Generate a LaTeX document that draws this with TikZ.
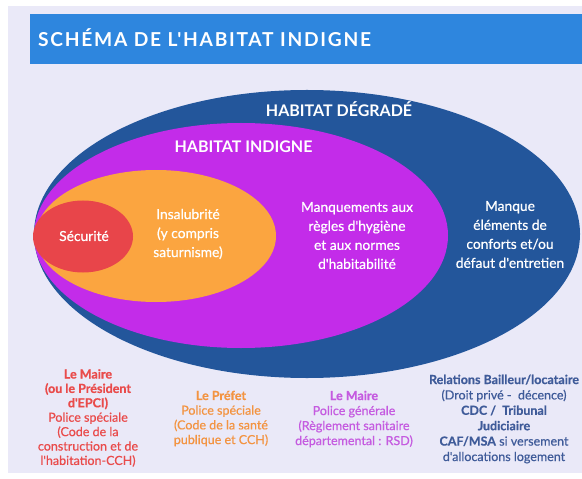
\documentclass[tikz,border=0pt]{standalone}
\usepackage{fontspec}
\setmainfont{Lato}
\newfontfamily\ttlfont[LetterSpace=9]{Lato}
\newfontfamily\medfont[FakeBold=0.6]{Lato}
\usetikzlibrary{shapes.geometric,positioning}
\definecolor{bgc}{HTML}{EAE9F8}
\definecolor{barc}{HTML}{2E86DE}
\definecolor{degc}{HTML}{23569B}
\definecolor{indc}{HTML}{C32CE9}
\definecolor{insc}{HTML}{FBA540}
\definecolor{secc}{HTML}{E8454A}
\definecolor{txtred}{HTML}{E94B4B}
\definecolor{txtora}{HTML}{F39442}
\definecolor{txtmag}{HTML}{C55BE0}
\definecolor{txtblu}{HTML}{3F5B99}

\begin{document}
\begin{tikzpicture}[x=1bp,y=-1bp]
        \useasboundingbox (0,0) rectangle (582,479);
        \fill[bgc] (8,6) rectangle (582,473);
        \fill[barc] (30,14) rectangle (582,64);
        \node[anchor=base west,inner sep=0,text=white,font={\ttlfont\bfseries\fontsize{19.2bp}{22bp}\selectfont}] at (38,47) (a3f1c0de) {SCHÉMA DE L'HABITAT INDIGNE};
        \node[ellipse,fill=degc,inner sep=0,minimum width=546bp,minimum height=288bp] at (307,234) (5b2e97a1) {};
        \node[ellipse,fill=indc,inner sep=0,minimum width=414bp,minimum height=225bp] at (241,235.5) (c84d0f3e) {};
        \node[ellipse,fill=insc,inner sep=0,minimum width=240bp,minimum height=132bp] at (156,236) (e19a6b52) {};
        \node[ellipse,fill=secc,inner sep=0,minimum width=100bp,minimum height=72bp] at (83,236.5) (07d4c2f8) {};
        \node[anchor=base,inner sep=0,text=white,font={\bfseries\fontsize{16bp}{18bp}\selectfont}] at (339,117) (9f6a3b10) {HABITAT DÉGRADÉ};
        \node[anchor=base,inner sep=0,text=white,font={\bfseries\fontsize{16bp}{18bp}\selectfont}] at (243.5,153) (2c7e8d45) {HABITAT INDIGNE};
        \node[text=white,align=center,font={\medfont\fontsize{13.8bp}{19bp}\selectfont}] at (84,236) (b6e0f713) {Sécurité};
        \node[text=white,align=center,font={\medfont\fontsize{13.8bp}{19bp}\selectfont}] at (188,234) (41d9a2ce) {Insalubrité\\(y compris\\saturnisme)};
        \node[text=white,align=center,font={\medfont\fontsize{13.8bp}{19bp}\selectfont}] at (357,235.5) (d27f5e09) {Manquements aux\\règles d'hygiène\\et aux normes\\d'habitabilité};
        \node[text=white,align=center,font={\medfont\fontsize{13.8bp}{19bp}\selectfont}] at (510,234.5) (8ab31f64) {Manque\\éléments de\\conforts et/ou\\défaut d'entretien};
        \node[text=txtred,align=center,font={\medfont\fontsize{12.5bp}{14.4bp}\selectfont}] at (88,418) (f05c8e2b) {\textbf{Le Maire}\\\textbf{(ou le Président}\\\textbf{d'EPCI)}\\Police spéciale\\(Code de la\\construction et de\\l'habitation-CCH)};
        \node[text=txtora,align=center,font={\medfont\fontsize{12.5bp}{14.7bp}\selectfont}] at (221,418.5) (6d1e4a97) {\textbf{Le Préfet}\\Police spéciale\\(Code de la santé\\publique et CCH)};
        \node[text=txtmag,align=center,font={\medfont\fontsize{12.5bp}{15bp}\selectfont}] at (354,419) (3b87c2d0) {\textbf{Le Maire}\\Police générale\\(Règlement sanitaire\\départemental : RSD)};
        \node[text=txtblu,align=center,font={\medfont\fontsize{12.5bp}{15.4bp}\selectfont}] at (504,419) (c9f2076e) {\textbf{Relations Bailleur/locataire}\\(Droit privé -~ décence)\\\textbf{CDC /~ Tribunal}\\\textbf{Judiciaire}\\\textbf{CAF/MSA} si versement\\d'allocations logement};
    \end{tikzpicture}
\end{document}
